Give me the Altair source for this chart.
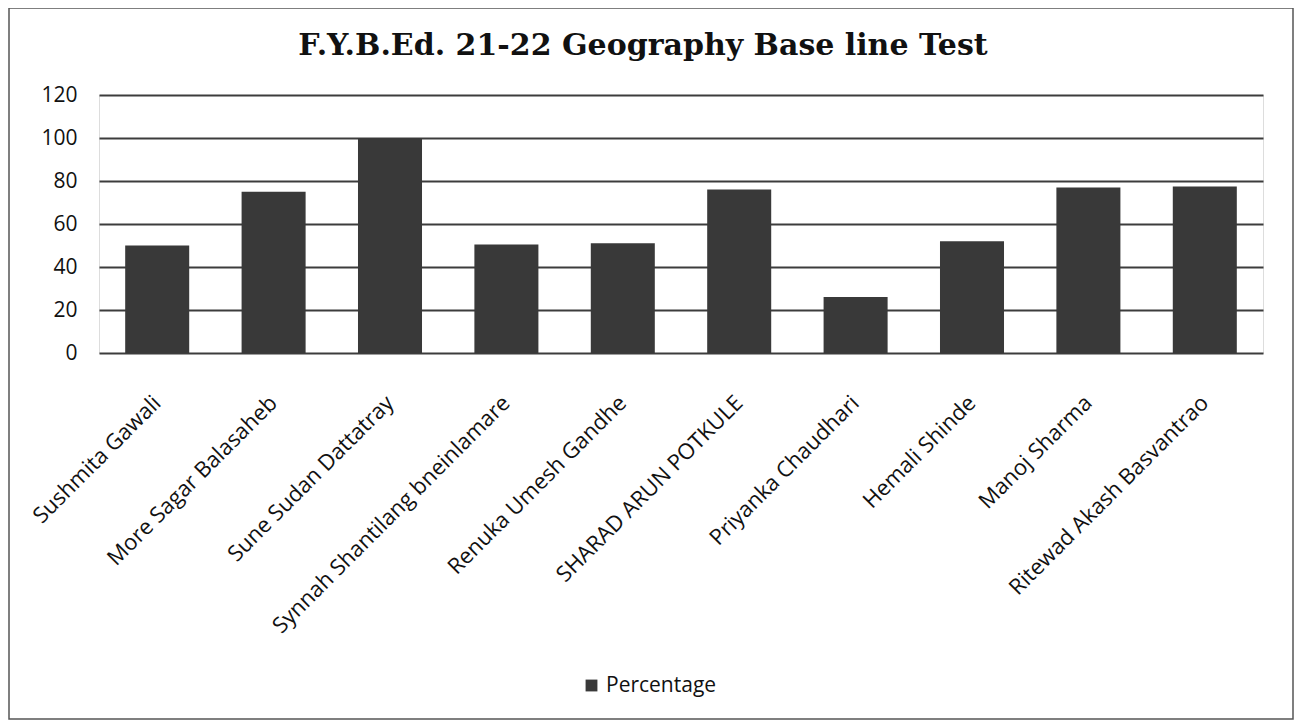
import altair as alt
import pandas as pd

names = [
    "Sushmita Gawali",
    "More Sagar Balasaheb",
    "Sune Sudan Dattatray",
    "Synnah Shantilang bneinlamare",
    "Renuka Umesh Gandhe",
    "SHARAD ARUN POTKULE",
    "Priyanka Chaudhari",
    "Hemali Shinde",
    "Manoj Sharma",
    "Ritewad Akash Basvantrao",
]
values = [50, 75, 100, 50.5, 51, 76, 26, 52, 77, 77.5]
series_name = "Percentage"
y_ticks = [0, 20, 40, 60, 80, 100, 120]
title_text = "F.Y.B.Ed. 21-22 Geography Base line Test"

df = pd.DataFrame({"name": names, "value": values, "series": [series_name] * len(names)})

BAR = "#393939"
GRID = "#3c3c3c"
FONT = "Open Sans"

bars = alt.Chart(df).mark_bar().encode(
    x=alt.X(
        "name:N",
        sort=names,
        title=None,
        scale=alt.Scale(paddingInner=0.45, paddingOuter=0.225),
        axis=alt.Axis(
            labelAngle=-45,
            labelAlign="right",
            labelBaseline="middle",
            labelPadding=46,
            ticks=False,
            domain=False,
            grid=False,
            labelFont=FONT,
            labelFontSize=22,
            labelColor="#111111",
            labelLimit=500,
        ),
    ),
    y=alt.Y(
        "value:Q",
        title=None,
        scale=alt.Scale(domain=[0, 120], nice=False),
        axis=alt.Axis(
            values=y_ticks,
            ticks=False,
            domain=False,
            labelPadding=22,
            labelFont=FONT,
            labelFontSize=21,
            labelColor="#111111",
            gridColor=GRID,
            gridWidth=1.8,
            gridOpacity=1,
        ),
    ),
    color=alt.Color(
        "series:N",
        scale=alt.Scale(domain=[series_name], range=[BAR]),
        legend=alt.Legend(
            title=None,
            orient="none",
            legendX=482,
            legendY=580,
            symbolType="square",
            symbolSize=140,
            symbolStrokeWidth=0,
            labelFont=FONT,
            labelFontSize=21,
            labelColor="#111111",
        ),
    ),
)

frame = alt.Chart(pd.DataFrame({"a": [0]})).mark_rect(
    fill=None, stroke="#555555", strokeWidth=1.5
).encode(
    x=alt.value(-90), x2=alt.value(1194), y=alt.value(-87), y2=alt.value(624)
)

chart = alt.layer(frame, bars).properties(
    width=1164,
    height=258,
    autosize=alt.AutoSizeParams(type="none"),
    padding={"left": 91, "top": 87, "right": 31, "bottom": 367},
    title=alt.TitleParams(
        title_text,
        font="DejaVu Serif",
        fontSize=30,
        fontWeight="bold",
        color="#111111",
        anchor="middle",
        baseline="alphabetic",
        dx=-38,
        offset=-78,
    ),
).configure_view(stroke=None).configure(background="white")

chart.save("out.html", embed_options={"renderer": "svg", "actions": False})
